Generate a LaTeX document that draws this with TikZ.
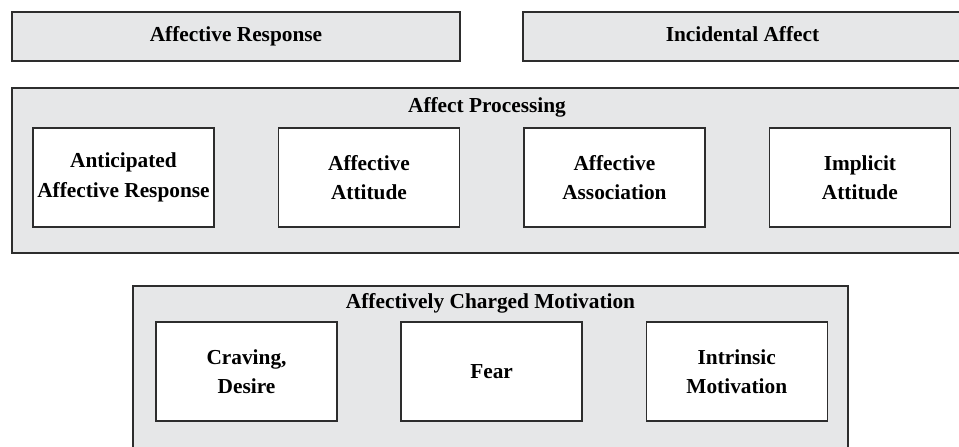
\documentclass[tikz,border=0pt]{standalone}
\usepackage{fontspec}
\setmainfont{Liberation Serif}
\usepackage{xcolor}
\usepackage{tikz}
\usetikzlibrary{positioning}
\definecolor{boxgray}{RGB}{230,231,232}
\definecolor{edgegray}{RGB}{45,45,45}

\begin{document}
\begin{tikzpicture}[
    x=0.75pt, y=-0.75pt,
    font=\fontsize{16}{22}\selectfont\bfseries,
    outerbox/.style={rectangle, draw=edgegray, line width=1.4pt, fill=boxgray, inner sep=0pt},
    headbox/.style={outerbox, minimum height=36.75pt, text height=11pt, text depth=3.5pt, align=center},
    innerbox/.style={rectangle, draw=edgegray, line width=1.1pt, fill=white,
        minimum width=135.75pt, minimum height=74.25pt, inner sep=2pt, align=center},
    title/.style={inner sep=0pt, text height=11pt, text depth=3.5pt, align=center}
]
\useasboundingbox (0,0) rectangle (959,446);

% === TOP ROW ===
\node[headbox, minimum width=336pt] (resp) at (236,36.5) {Affective Response};
\node[headbox, minimum width=329.25pt] (incid) at (742.5,36.5) {Incidental Affect};

% === AFFECT PROCESSING ===
\node[outerbox, minimum width=712.5pt, minimum height=123.75pt] (proc) at (487,170.5) {};
\node[title] (proctitle) at (487,107) {Affect Processing};

\node[innerbox] (antic) at (123.5,177.5) {Anticipated\\Affective Response};
\node[innerbox, right=47.25pt of antic] (attit) {Affective\\Attitude};
\node[innerbox, right=47.25pt of attit] (assoc) {Affective\\Association};
\node[innerbox, right=47.25pt of assoc] (impl) {Implicit\\Attitude};

% === AFFECTIVELY CHARGED MOTIVATION ===
\node[outerbox, minimum width=536.25pt, minimum height=123pt] (motiv) at (490.5,368) {};
\node[title] (motivtitle) at (490.5,303) {Affectively Charged Motivation};

\node[innerbox] (crav) at (246.5,371.5) {Craving,\\Desire};
\node[innerbox, right=47pt of crav] (fear) {Fear};
\node[innerbox, right=47pt of fear] (intr) {Intrinsic\\Motivation};

\end{tikzpicture}
\end{document}
